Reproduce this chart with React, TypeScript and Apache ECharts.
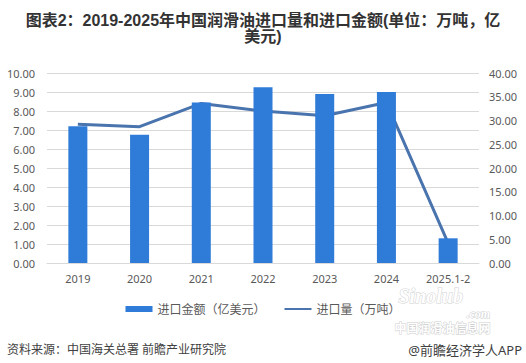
import React, { useEffect, useRef } from "react";
import * as echarts from "echarts";

const categories = ["2019", "2020", "2021", "2022", "2023", "2024", "2025.1-2"];
const importAmount = [7.2, 6.75, 8.45, 9.25, 8.9, 9.0, 1.3];
const importVolume = [29.2, 28.7, 33.6, 32.0, 31.0, 33.8, 4.2];
const leftTicks = { min: 0, max: 10, interval: 1 };
const rightTicks = { min: 0, max: 40, interval: 5 };

const FONT = "'Noto Sans', 'Noto Sans CJK SC', sans-serif";

export default function App() {
  const ref = useRef<HTMLDivElement>(null);
  useEffect(() => {
    if (!ref.current) return;
    const chart = echarts.init(ref.current, null, { renderer: "svg" });
    chart.setOption({
      animation: false,
      backgroundColor: "#ffffff",
      textStyle: { fontFamily: FONT },
      grid: { left: 47, right: 47, top: 73, bottom: 100 },
      legend: {
        left: "center",
        top: 298,
        itemGap: 18,
        itemWidth: 27,
        itemHeight: 6,
        textStyle: { fontSize: 12, color: "#595959" },
        data: [
          { name: "进口金额（亿美元）", icon: "rect" },
          { name: "进口量（万吨）", itemStyle: { opacity: 0 } },
        ],
      },
      xAxis: {
        type: "category",
        data: categories,
        axisLine: { lineStyle: { color: "#d9d9d9" } },
        axisTick: { show: false },
        axisLabel: { color: "#595959", fontSize: 11, margin: 10 },
      },
      yAxis: [
        {
          type: "value",
          min: leftTicks.min,
          max: leftTicks.max,
          interval: leftTicks.interval,
          axisLabel: {
            color: "#595959",
            fontSize: 11,
            margin: 12,
            formatter: (v: number) => v.toFixed(2),
          },
          splitLine: { lineStyle: { color: "#d9d9d9" } },
          axisLine: { show: false },
          axisTick: { show: false },
        },
        {
          type: "value",
          min: rightTicks.min,
          max: rightTicks.max,
          interval: rightTicks.interval,
          position: "right",
          axisLabel: {
            color: "#595959",
            fontSize: 11,
            margin: 10,
            formatter: (v: number) => v.toFixed(2),
          },
          splitLine: { show: false },
          axisLine: { show: false },
          axisTick: { show: false },
        },
      ],
      series: [
        {
          name: "进口量（万吨）",
          type: "line",
          yAxisIndex: 1,
          data: importVolume,
          symbol: "none",
          z: 1,
          lineStyle: { color: "#4a74ad", width: 3 },
          itemStyle: { color: "#4a74ad" },
        },
        {
          name: "进口金额（亿美元）",
          type: "bar",
          yAxisIndex: 0,
          data: importAmount,
          barWidth: 19,
          z: 3,
          itemStyle: { color: "#2e7bd8" },
        },
      ],
      graphic: [
        {
          type: "text",
          x: 263,
          y: 12,
          style: {
            text: "图表2：2019-2025年中国润滑油进口量和进口金额(单位：万吨，亿\n美元)",
            align: "center",
            fontSize: 16,
            lineHeight: 16,
            fontWeight: "bold",
            fill: "#333333",
            fontFamily: "'Liberation Sans', 'Noto Sans CJK SC', sans-serif",
          },
        },
        {
          type: "text",
          left: 7,
          top: 343,
          style: {
            text: "资料来源：中国海关总署 前瞻产业研究院",
            fontSize: 12,
            fill: "#404040",
            fontFamily: FONT,
          },
        },
        {
          type: "text",
          right: 4,
          top: 343,
          style: {
            text: "@前瞻经济学人APP",
            fontSize: 13,
            fill: "#404040",
            fontFamily: FONT,
          },
        },
        {
          type: "text",
          left: 398,
          top: 285,
          z: 10,
          style: {
            text: "Sinolub",
            fontSize: 20,
            fontStyle: "italic",
            fontWeight: "bold",
            fill: "#ffffff",
            stroke: "#d0d0d0",
            lineWidth: 1,
            fontFamily: "'Liberation Serif', serif",
          },
        },
        {
          type: "text",
          left: 466,
          top: 307,
          z: 10,
          style: {
            text: ".com",
            fontSize: 12,
            fontStyle: "italic",
            fontWeight: "bold",
            fill: "#ffffff",
            stroke: "#d0d0d0",
            lineWidth: 1,
            fontFamily: "'Liberation Serif', serif",
          },
        },
        {
          type: "text",
          left: 394,
          top: 322,
          z: 10,
          style: {
            text: "中国润滑油信息网",
            fontSize: 12,
            fontWeight: "bold",
            fill: "#ffffff",
            stroke: "#cfcfcf",
            lineWidth: 1,
            fontFamily: FONT,
          },
        },
      ],
    });
    return () => chart.dispose();
  }, []);
  return (
    <div
      ref={ref}
      style={{ position: "fixed", left: 0, top: 0, width: 526, height: 363 }}
    />
  );
}
